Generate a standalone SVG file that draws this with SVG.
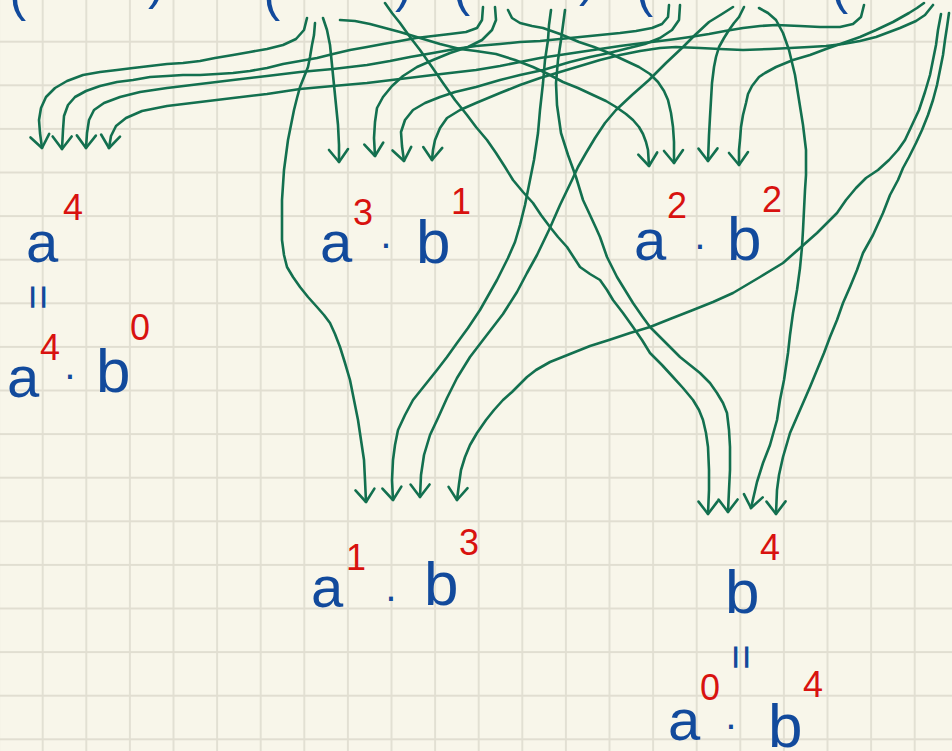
<svg xmlns="http://www.w3.org/2000/svg" width="952" height="751" viewBox="0 0 952 751">
<style>
.w{fill:none;stroke:#13704f;stroke-width:2.6;stroke-linecap:round;stroke-linejoin:round;marker-end:url(#ah)}
.v{fill:#124a9c;font-family:"Liberation Sans","DejaVu Sans",sans-serif}
.a{font-size:58px}
.b{font-size:62px}
.e{fill:#d8120f;font-family:"Liberation Sans","DejaVu Sans",sans-serif;font-size:36px}
.p{fill:#124a9c;font-family:"Liberation Sans","DejaVu Sans",sans-serif;font-size:50px}
.d{font-size:40px;text-anchor:middle}
.q{font-size:44px;text-anchor:middle}
</style>
<defs>
<pattern id="grid" patternUnits="userSpaceOnUse" x="20.9" y="-23.7" width="43.6" height="43.6">
<path d="M21.8,0 V43.6 M0,21.8 H43.6" stroke="#e1ded1" stroke-width="1.8" fill="none"/>
</pattern>
<marker id="ah" markerUnits="userSpaceOnUse" orient="auto" refX="0" refY="0" markerWidth="30" markerHeight="30" overflow="visible">
<path d="M-13,-9 L0,0 L-12,10" fill="none" stroke="#13704f" stroke-width="2.6" stroke-linecap="round" stroke-linejoin="round"/>
</marker>
</defs>
<rect width="952" height="751" fill="#f8f6ea"/>
<rect width="952" height="751" fill="url(#grid)"/>

<g id="header">
<text class="p" x="9.5" y="11.4">(</text>
<text class="p" x="148" y="-0.6">)</text>
<text class="p" x="263.5" y="11.4">(</text>
<text class="p" x="395" y="2.4">)</text>
<text class="p" x="453.5" y="6.4">(</text>
<text class="p" x="579" y="-3.6">)</text>
<text class="p" x="636.5" y="7.4">(</text>
<text class="p" x="831.5" y="4.4">(</text>
</g>

<g id="connectors">
<path class="w" d="M307,18 L304,30 L296,39 L283,45 L267,49 L250,52 L233,55 L215,58 L200,61 L183,63 L167,64 L150,66 L133,68 L117,70 L100,72 L83,75 L67,81 L55,88 L46,97 L41,108 L39,120 L40,133 L42,148"/>
<path class="w" d="M483,7 L482,20 L477,28 L466,32 L450,34 L433,36 L416,38 L400,41 L383,44 L367,47 L350,50 L333,54 L317,58 L300,61 L283,64 L267,68 L250,71 L233,73 L217,74 L200,75 L183,75 L167,76 L150,77 L133,80 L117,82 L100,86 L86,91 L75,97 L68,105 L64,116 L63,130 L62,149"/>
<path class="w" d="M669,5 L668,17 L662,24 L652,28 L636,31 L620,33 L600,35 L580,37 L560,39 L540,41 L520,42 L500,44 L476,46 L455,49 L433,53 L410,57 L390,61 L367,65 L333,69 L300,72 L267,76 L233,80 L200,84 L167,88 L140,92 L120,97 L104,103 L94,110 L89,120 L87,133 L86,148"/>
<path class="w" d="M864,5 L861,17 L853,24 L840,27 L820,27 L800,26 L776,25 L760,26 L743,28 L725,31 L709,34 L690,37 L676,39 L660,41 L643,43 L620,46 L600,49 L580,52 L560,55 L540,58 L520,62 L500,66 L476,70 L450,73 L433,75 L400,79 L367,83 L333,86 L300,89 L267,94 L233,98 L200,102 L167,106 L142,111 L126,118 L116,126 L111,136 L109,148"/>
<path class="w" d="M323,18 L327,30 L330,45 L332,65 L334,85 L336,105 L338,125 L339,145 L339,162"/>
<path class="w" d="M495,7 L496,20 L492,30 L482,40 L468,47 L450,53 L433,60 L417,67 L403,76 L392,86 L383,97 L377,108 L375,122 L374,138 L375,156"/>
<path class="w" d="M680,5 L679,20 L672,30 L660,38 L645,44 L625,49 L609,53 L590,57 L570,62 L543,70 L520,75 L500,80 L476,87 L455,92 L440,97 L425,103 L413,110 L405,120 L401,132 L402,146 L404,161"/>
<path class="w" d="M933,5 L925,15 L916,21 L900,28 L876,37 L860,41 L843,44 L826,46 L809,47 L790,48 L770,49 L743,50 L720,49 L700,48 L676,47 L660,48 L640,51 L620,55 L600,60 L580,66 L560,72 L540,78 L520,85 L500,93 L476,103 L460,110 L447,118 L440,128 L435,140 L433,150 L432,160"/>
<path class="w" d="M340,20 L355,21 L370,24 L385,28 L400,32 L420,38 L440,44 L460,49 L476,51 L496,54 L515,60 L533,67 L548,74 L563,82 L578,88 L593,95 L606,101 L616,107 L626,114 L633,120 L639,127 L643,134 L646,142 L648,150 L649,166"/>
<path class="w" d="M508,10 L512,18 L520,23 L532,26 L543,28 L560,34 L579,42 L594,47 L609,53 L624,60 L639,67 L650,74 L658,82 L664,91 L668,100 L671,113 L673,127 L674,142 L674,163"/>
<path class="w" d="M744,7 L739,17 L734,23 L729,30 L724,38 L719,47 L716,57 L714,67 L712,83 L711,100 L710,117 L709,135 L708,161"/>
<path class="w" d="M924,3 L917,8 L909,13 L893,22 L876,30 L860,37 L843,43 L826,49 L810,55 L793,60 L776,67 L765,73 L759,77 L752,86 L748,94 L746,103 L743,115 L741,127 L740,140 L739,150 L739,165"/>
<path class="w" d="M315,23 L314,35 L312,45 L310,57 L308,67 L304,77 L300,87 L297,98 L294,110 L291,125 L288,140 L286,155 L284,170 L283,185 L282,200 L282,220 L282,240 L284,255 L287,267 L293,277 L300,287 L308,297 L317,307 L324,315 L330,323 L335,334 L340,347 L345,363 L350,380 L354,400 L358,420 L361,440 L364,460 L365,480 L366,502"/>
<path class="w" d="M551,10 L549,25 L548,40 L545,60 L543,83 L540,110 L538,133 L534,160 L530,180 L525,205 L520,225 L515,242 L508,258 L497,280 L480,310 L468,328 L457,343 L447,357 L437,370 L425,385 L413,400 L405,415 L398,430 L395,445 L393,460 L392,480 L393,500"/>
<path class="w" d="M733,7 L722,14 L709,22 L695,35 L683,47 L666,63 L649,80 L632,95 L616,110 L605,123 L595,138 L586,153 L578,167 L572,180 L560,205 L549,230 L537,255 L527,273 L517,292 L503,314 L483,340 L470,357 L457,378 L447,398 L438,418 L430,435 L424,455 L421,475 L420,497"/>
<path class="w" d="M941,14 L938,30 L936,45 L933,60 L930,75 L925,92 L919,110 L912,125 L905,140 L898,150 L889,160 L878,170 L866,178 L856,188 L846,200 L837,213 L827,223 L817,233 L800,248 L783,263 L760,277 L733,293 L713,302 L693,310 L670,319 L650,327 L630,333 L609,340 L590,346 L570,354 L550,362 L536,370 L527,377 L520,384 L512,392 L503,400 L494,410 L486,420 L477,433 L470,445 L465,457 L461,470 L459,484 L457,500"/>
<path class="w" d="M385,3 L392,13 L400,23 L410,37 L420,50 L432,67 L443,83 L455,100 L467,115 L476,127 L487,140 L496,153 L505,167 L513,180 L523,192 L533,203 L541,215 L550,227 L558,237 L567,247 L580,267 L590,274 L600,280 L607,290 L613,300 L623,313 L633,327 L642,340 L650,353 L662,365 L673,377 L683,388 L693,400 L699,410 L703,420 L706,433 L708,447 L709,470 L709,490 L708,514"/>
<path class="w" d="M565,10 L563,25 L561,40 L558,60 L556,83 L557,105 L561,133 L568,155 L576,177 L583,200 L590,215 L596,228 L600,237 L607,257 L617,277 L625,290 L633,303 L642,316 L650,327 L663,340 L680,357 L690,365 L700,373 L710,383 L717,393 L723,403 L727,413 L729,430 L730,447 L730,470 L729,490 L728,512"/>
<path class="w" d="M759,8 L768,13 L776,20 L783,33 L789,50 L795,75 L799,100 L803,125 L806,150 L806,175 L805,190 L804,210 L803,230 L802,247 L800,268 L797,290 L793,313 L790,335 L788,353 L784,380 L780,400 L777,420 L770,445 L763,463 L757,482 L754,495 L751,508"/>
<path class="w" d="M949,13 L947,27 L945,40 L943,55 L940,70 L937,85 L933,100 L928,115 L922,130 L916,143 L909,157 L903,168 L898,180 L890,195 L883,213 L873,235 L863,253 L857,270 L850,287 L843,303 L837,320 L830,337 L824,353 L817,370 L810,387 L800,410 L790,433 L783,457 L779,475 L777,490 L776,514"/>
</g>

<g id="term-a4">
<text class="v a" x="26" y="262">a</text>
<text class="e" x="63" y="220">4</text>
<text class="v q" transform="translate(38,297) rotate(90)" y="15">=</text>
<text class="v a" x="7" y="397">a</text>
<text class="e" x="40" y="360">4</text>
<text class="v d" x="70" y="388">·</text>
<text class="v b" x="96" y="392">b</text>
<text class="e" x="130" y="340">0</text>
</g>

<g id="term-a3b1">
<text class="v a" x="320" y="262">a</text>
<text class="e" x="353" y="225">3</text>
<text class="v d" x="386" y="257">·</text>
<text class="v b" x="416" y="263">b</text>
<text class="e" x="451" y="214">1</text>
</g>

<g id="term-a2b2">
<text class="v a" x="634" y="260">a</text>
<text class="e" x="667" y="218">2</text>
<text class="v d" x="700" y="258">·</text>
<text class="v b" x="727" y="260">b</text>
<text class="e" x="762" y="212">2</text>
</g>

<g id="term-a1b3">
<text class="v a" x="311" y="607">a</text>
<text class="e" x="346" y="570">1</text>
<text class="v d" x="391" y="610">·</text>
<text class="v b" x="424" y="605">b</text>
<text class="e" x="459" y="555">3</text>
</g>

<g id="term-b4">
<text class="v b" x="725" y="613">b</text>
<text class="e" x="760" y="560">4</text>
<text class="v q" transform="translate(741,657) rotate(90)" y="15">=</text>
<text class="v a" x="668" y="740">a</text>
<text class="e" x="700" y="700">0</text>
<text class="v d" x="731" y="738">·</text>
<text class="v b" x="768" y="747">b</text>
<text class="e" x="803" y="697">4</text>
</g>
</svg>
